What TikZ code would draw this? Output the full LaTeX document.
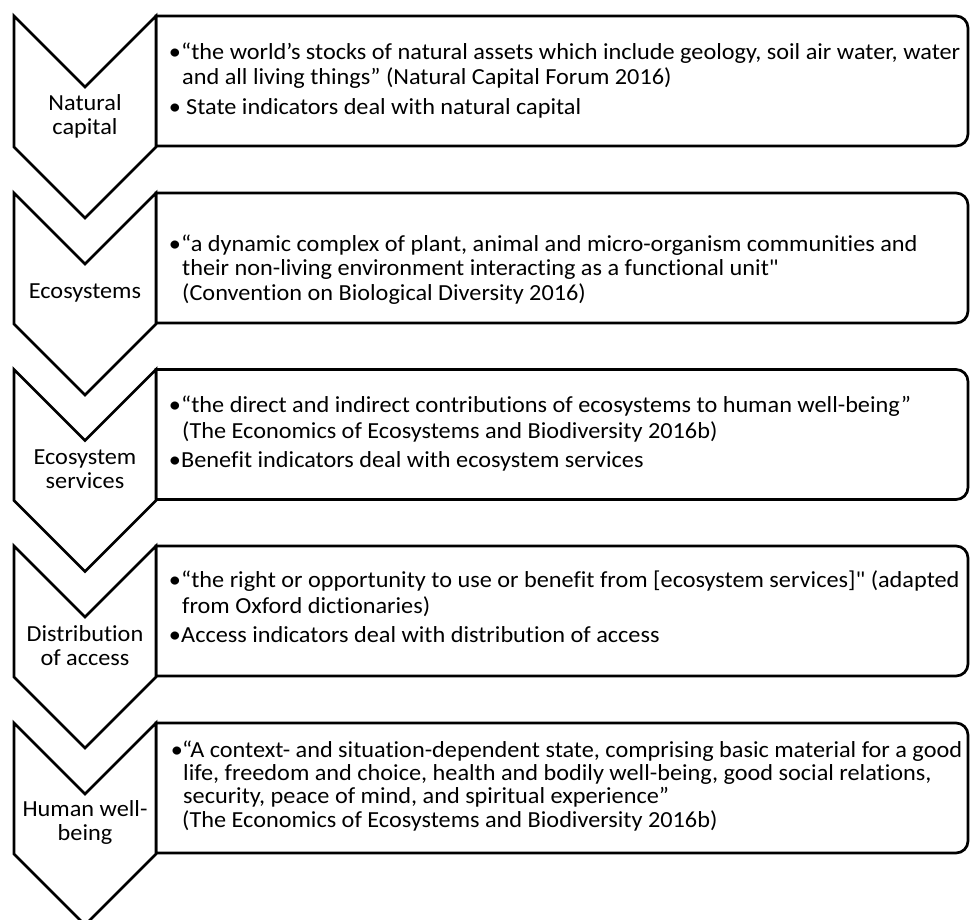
\documentclass[tikz,border=0pt]{standalone}
\usepackage{fontspec}
\newfontfamily\carl{Carlito}[FakeStretch=1.055, Ligatures=NoCommon]
\begin{document}
\begin{tikzpicture}[x=1pt,y=-1pt,
  shp/.style={draw=black, line width=2.7pt, fill=white, line join=miter},
  txt/.style={anchor=base west, inner sep=0pt, font=\carl\fontsize{23}{24}\selectfont},
  bul/.style={anchor=base, inner sep=0pt, font=\carl\fontsize{23}{24}\selectfont},
  lab/.style={align=center, inner sep=0pt, font=\carl\fontsize{23}{24}\selectfont}]
\useasboundingbox (0,0) rectangle (970,920);
% boxes and chevrons
\foreach \T in {16,193,369.5,546,723}{
  \draw[shp] (156,\T) -- (956,\T) arc[start angle=-90,end angle=0,radius=12]
     -- (968,\T+118) arc[start angle=0,end angle=90,radius=12] -- (156,\T+130) -- cycle;
  \draw[shp] (14,\T) -- (85,\T+71) -- (156,\T) -- (156,\T+131) -- (85,\T+202) -- (14,\T+131) -- cycle;
}
% labels
\node[lab] (L1) at (85,116) {Natural\\capital};
\node[lab] (L2) at (85,293) {Ecosystems};
\node[lab] (L3) at (85,469.5) {Ecosystem\\services};
\node[lab] (L4) at (85,646) {Distribution\\of access};
\node[lab] (L5) at (85,822) {Human well-\\being};
% box 1
\node[bul] (b1a) at (175,60) {•};
\node[txt] (t1a) at (181,60) {“the world’s stocks of natural assets which include geology, soil air water, water};
\node[txt] (t1b) at (182,85) {and all living things” (Natural Capital Forum 2016)};
\node[bul] (b1c) at (175,115) {•};
\node[txt] (t1c) at (186,115) {State indicators deal with natural capital};
% box 2
\node[bul] (b2a) at (175,252) {•};
\node[txt] (t2a) at (181,252) {“a dynamic complex of plant, animal and micro-organism communities and};
\node[txt] (t2b) at (182,276) {their non-living environment interacting as a functional unit"};
\node[txt] (t2c) at (182,301) {(Convention on Biological Diversity 2016)};
% box 3
\node[bul] (b3a) at (175,412) {•};
\node[txt] (t3a) at (181,412) {“the direct and indirect contributions of ecosystems to human well-being”};
\node[txt] (t3b) at (182,438) {(The Economics of Ecosystems and Biodiversity 2016b)};
\node[bul] (b3c) at (175,467) {•};
\node[txt] (t3c) at (181,467) {Benefit indicators deal with ecosystem services};
% box 4
\node[bul] (b4a) at (175,587) {•};
\node[txt] (t4a) at (181,587) {“the right or opportunity to use or benefit from [ecosystem services]" (adapted};
\node[txt] (t4b) at (182,613) {from Oxford dictionaries)};
\node[bul] (b4c) at (175,642) {•};
\node[txt] (t4c) at (181,642) {Access indicators deal with distribution of access};
% box 5
\node[bul] (b5a) at (177,757) {•};
\node[txt] (t5a) at (182,757) {“A context- and situation-dependent state, comprising basic material for a good};
\node[txt] (t5b) at (183,780) {life, freedom and choice, health and bodily well-being, good social relations,};
\node[txt] (t5c) at (183,803) {security, peace of mind, and spiritual experience”};
\node[txt] (t5d) at (182,827) {(The Economics of Ecosystems and Biodiversity 2016b)};
\end{tikzpicture}
\end{document}
